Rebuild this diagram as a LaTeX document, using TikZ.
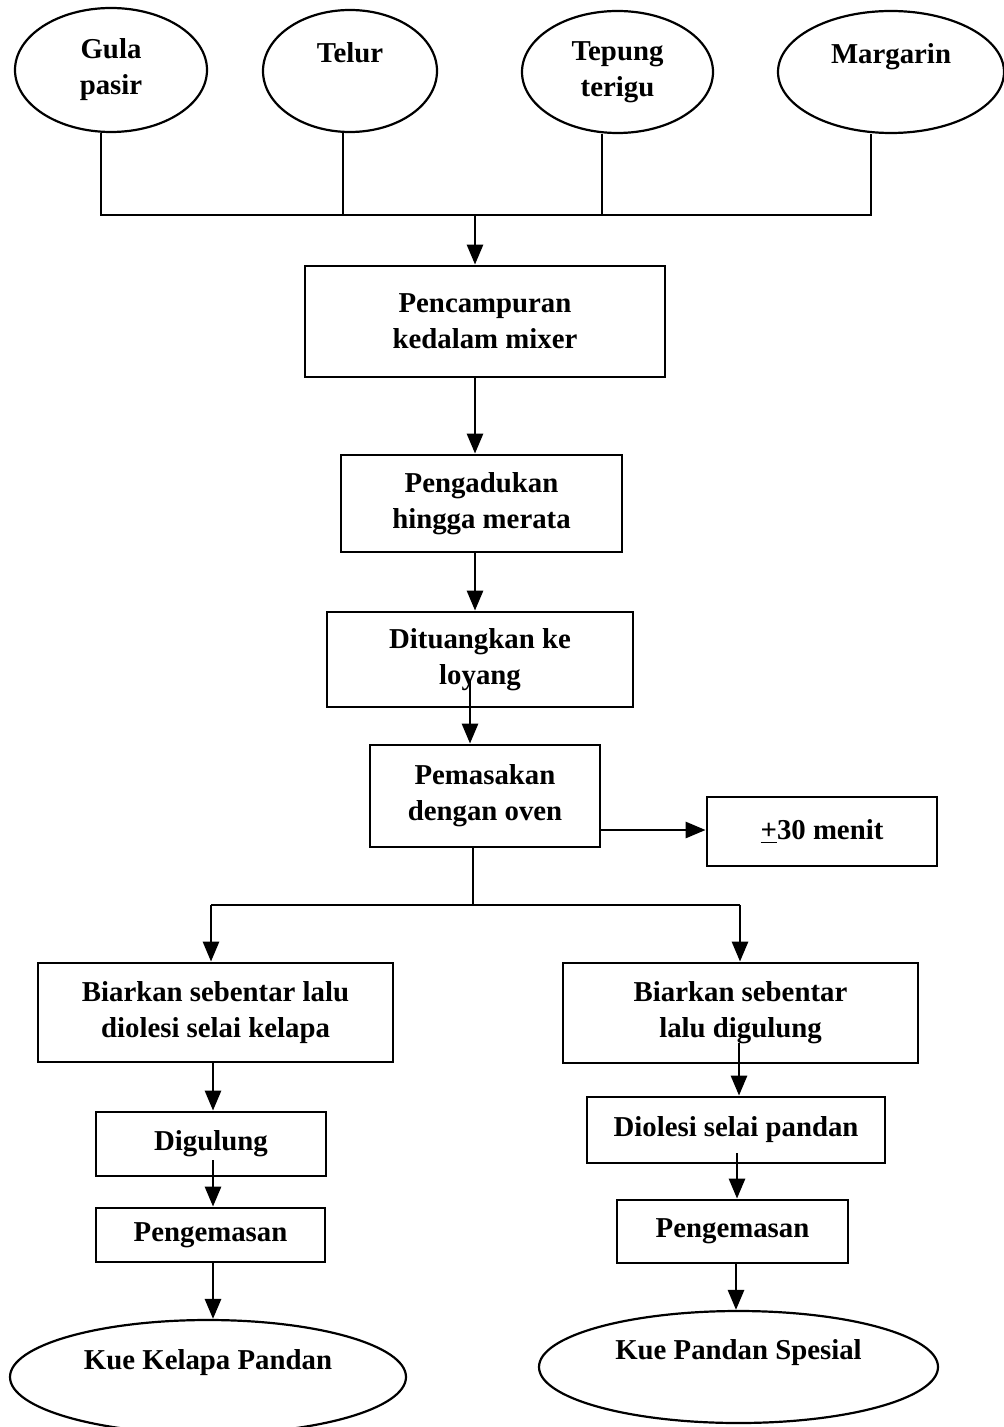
\documentclass[tikz,border=0pt]{standalone}
\usepackage{fontspec}
\setmainfont{Liberation Serif}
\usetikzlibrary{arrows.meta,shapes.geometric,calc}
\begin{document}
\begin{tikzpicture}[x=0.5pt,y=-0.5pt,
  every node/.style={font=\fontsize{14.4}{18}\selectfont\bfseries, align=center, inner sep=0pt},
  box/.style={draw, line width=1.4pt, rectangle},
  ell/.style={draw, line width=1.1pt, ellipse},
  line/.style={line width=1.4pt},
  arr/.style={line width=1.4pt, -{Triangle[length=10pt,width=8pt]}}]
\fill[white] (0,0) rectangle (1003,1427);
\useasboundingbox (0,0) rectangle (1003,1427);

% inputs
\node[ell, minimum width=96pt, minimum height=62pt] (gula) at (111,70) {Gula\\pasir};
\node[ell, minimum width=87pt, minimum height=61pt] (telur) at (350,71) {Telur\\\mbox{}};
\node[ell, minimum width=95.5pt, minimum height=61pt] (tepung) at (617.5,72) {Tepung\\terigu};
\node[ell, minimum width=113pt, minimum height=61pt] (margarin) at (891,72) {Margarin\\\mbox{}};

% process boxes
\node[box, minimum width=180pt, minimum height=55.5pt] (b1) at (485,321.5) {Pencampuran\\kedalam mixer};
\node[box, minimum width=140.5pt, minimum height=48.5pt] (b2) at (481.5,503.5) {Pengadukan\\hingga merata};
\node[box, minimum width=153pt, minimum height=47.5pt] (b3) at (480,659.5) {Dituangkan ke\\loyang};
\node[box, minimum width=115pt, minimum height=51pt] (b4) at (485,796) {Pemasakan\\dengan oven};
\node[box, minimum width=115pt, minimum height=34.5pt] (b5) at (822,831.5) {\underline{+}30 menit};
\node[box, minimum width=177.5pt, minimum height=49.5pt] (b6) at (215.5,1012.5) {Biarkan sebentar lalu\\diolesi selai kelapa};
\node[box, minimum width=177.5pt, minimum height=50pt] (b7) at (740.5,1013) {Biarkan sebentar\\lalu digulung};
\node[box, minimum width=115pt, minimum height=32pt] (b8) at (211,1144) {Digulung};
\node[box, minimum width=114.5pt, minimum height=27pt] (b9) at (210.5,1235) {Pengemasan};
\node[box, minimum width=149pt, minimum height=33pt] (b10) at (736,1130) {Diolesi selai pandan};
\node[box, minimum width=115.5pt, minimum height=31.5pt] (b11) at (732.5,1231.5) {Pengemasan};

% outputs
\node[ell, minimum width=198pt, minimum height=57pt] (e1) at (208,1377) {};
\node (t1) at (208,1363) {Kue Kelapa Pandan};
\node[ell, minimum width=199.5pt, minimum height=56pt] (e2) at (738.5,1367) {};
\node (t2) at (738.5,1353) {Kue Pandan Spesial};

% collecting lines
\coordinate (J) at (475,215);
\draw[line] ([xshift=-5pt]gula.south) |- ([xshift=-10pt]margarin.south |- J) -- ([xshift=-10pt]margarin.south);
\draw[line] ([xshift=-3.5pt]telur.south) -- ([xshift=-3.5pt]telur.south |- J);
\draw[line] ([xshift=-7.75pt]tepung.south) -- ([xshift=-7.75pt]tepung.south |- J);
\draw[arr] (J) -- (J |- b1.north);

% main chain
\draw[arr] (b1.south -| J) -- (b2.north -| J);
\draw[arr] (b2.south -| J) -- (b3.north -| J);
\coordinate (c3) at (470,680);
\draw[arr] (c3) -- (c3 |- b4.north);
\coordinate (h) at (0,830);
\draw[arr] (b4.east |- h) -- (b5.west |- h);

% split
\coordinate (S) at (473,905);
\coordinate (SL) at (211,905);
\coordinate (SR) at (740,905);
\draw[line] (b4.south -| S) -- (S);
\draw[line] (SL) -- (SR);
\draw[arr] (SL) -- (SL |- b6.north);
\draw[arr] (SR) -- (SR |- b7.north);

% left branch
\coordinate (x1) at (213,0);
\draw[arr] (b6.south -| x1) -- (b8.north -| x1);
\coordinate (c8) at (213,1160);
\draw[arr] (c8) -- (c8 |- b9.north);
\draw[arr] (b9.south -| x1) -- (e1.north -| x1);

% right branch
\coordinate (c7) at (739,1043);
\draw[arr] (c7) -- (c7 |- b10.north);
\coordinate (c10) at (737,1153);
\draw[arr] (c10) -- (c10 |- b11.north);
\coordinate (x11) at (736,0);
\draw[arr] (b11.south -| x11) -- (e2.north -| x11);
\end{tikzpicture}
\end{document}
